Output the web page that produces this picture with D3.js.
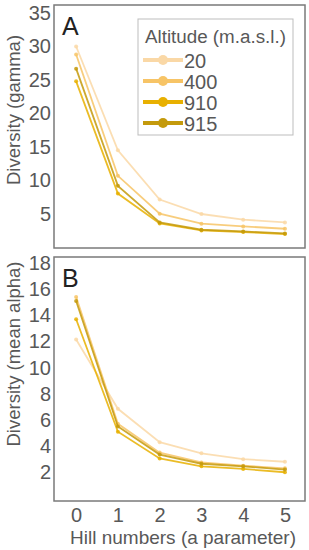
<!DOCTYPE html>
<html><head><meta charset="utf-8">
<script src="https://cdn.jsdelivr.net/npm/d3@7"></script>
<style>html,body{margin:0;padding:0;background:#fff;}svg{display:block;}</style>
</head><body>
<script>
const hill = [0, 1, 2, 3, 4, 5];
const altitudes = ["20", "400", "910", "915"];
const colors = ["#fad8a6", "#f7c466", "#e8b000", "#c49a0c"];
const gamma20  = [30.0, 14.5, 7.15, 5.0, 4.15, 3.75];
const gamma400 = [28.8, 10.7, 5.05, 3.55, 3.15, 2.8];
const gamma910 = [24.8, 8.05, 3.6, 2.55, 2.3, 2.0];
const gamma915 = [26.7, 9.2, 3.75, 2.65, 2.4, 2.1];
const alpha20  = [12.15, 6.85, 4.3, 3.45, 3.0, 2.8];
const alpha400 = [15.4, 5.7, 3.5, 2.75, 2.5, 2.3];
const alpha910 = [13.7, 5.1, 3.05, 2.45, 2.25, 2.0];
const alpha915 = [15.1, 5.5, 3.35, 2.65, 2.45, 2.2];
const gammaTicks = [5, 10, 15, 20, 25, 30, 35];
const alphaTicks = [2, 4, 6, 8, 10, 12, 14, 16, 18];
const xTicks = [0, 1, 2, 3, 4, 5];

const W = 309, H = 550;
const svg = d3.select("body").append("svg").attr("width", W).attr("height", H);
const font = "'Liberation Sans', Arial, sans-serif";

const x = d3.scaleLinear().domain([-0.53, 5.48]).range([54, 305]);
const panels = [
  {letter: "A", title: "Diversity (gamma)", series: [gamma20, gamma400, gamma910, gamma915],
   y: d3.scaleLinear().domain([0, 36.2]).range([247.5, 5]), ticks: gammaTicks, top: 5, bottom: 248, titleY: 110},
  {letter: "B", title: "Diversity (mean alpha)", series: [alpha20, alpha400, alpha910, alpha915],
   y: d3.scaleLinear().domain([-0.2, 18.46]).range([501, 257]), ticks: alphaTicks, top: 257, bottom: 501, titleY: 354}
];

panels.forEach((p, pi) => {
  const g = svg.append("g");
  g.append("rect").attr("x", x.range()[0]).attr("y", p.top)
    .attr("width", x.range()[1] - x.range()[0]).attr("height", p.bottom - p.top)
    .attr("fill", "none").attr("stroke", "#7a7a7a").attr("stroke-width", 1.5);
  const ax = g.append("g").attr("transform", `translate(${x.range()[0]},0)`)
    .call(d3.axisLeft(p.y).tickValues(p.ticks).tickSize(0).tickPadding(3));
  ax.select(".domain").remove();
  ax.selectAll("text").attr("font-family", font).attr("font-size", 20).attr("fill", "#585858");
  g.append("text").attr("transform", `translate(13,${p.titleY}) rotate(-90)`)
    .attr("text-anchor", "middle").attr("dominant-baseline", "central")
    .attr("font-family", font).attr("font-size", 18.5).attr("fill", "#585858").text(p.title);
  g.append("text").attr("x", 62).attr("y", p.top + 30)
    .attr("font-family", font).attr("font-size", 25).attr("fill", "#222").text(p.letter);
  const line = d3.line().x((d, i) => x(hill[i])).y(d => p.y(d));
  p.series.forEach((s, si) => {
    g.append("path").datum(s).attr("d", line).attr("fill", "none")
      .attr("stroke", colors[si]).attr("stroke-width", 1.8).attr("stroke-opacity", 0.85);
    g.selectAll(null).data(s).enter().append("circle")
      .attr("cx", (d, i) => x(hill[i])).attr("cy", d => p.y(d)).attr("r", 2)
      .attr("fill", colors[si]).attr("fill-opacity", 0.85);
  });
});

const xa = svg.append("g").attr("transform", "translate(0,501)")
  .call(d3.axisBottom(x).tickValues(xTicks).tickSize(0).tickPadding(7).tickFormat(d3.format("d")));
xa.select(".domain").remove();
xa.selectAll("text").attr("font-family", font).attr("font-size", 20).attr("fill", "#585858");
svg.append("text").attr("x", 183).attr("y", 544).attr("text-anchor", "middle")
  .attr("font-family", font).attr("font-size", 19).attr("fill", "#585858").text("Hill numbers (a parameter)");

const lg = svg.append("g");
lg.append("rect").attr("x", 138).attr("y", 19).attr("width", 155).attr("height", 116)
  .attr("fill", "#fff").attr("stroke", "#bdbdbd").attr("stroke-width", 1);
lg.append("text").attr("x", 145).attr("y", 43).attr("font-family", font).attr("font-size", 18.8)
  .attr("fill", "#585858").text("Altitude (m.a.s.l.)");
altitudes.forEach((a, i) => {
  const yy = 60 + i * 21;
  lg.append("line").attr("x1", 143).attr("x2", 183).attr("y1", yy).attr("y2", yy)
    .attr("stroke", colors[i]).attr("stroke-width", 4);
  lg.append("circle").attr("cx", 163).attr("cy", yy).attr("r", 5).attr("fill", colors[i]);
  lg.append("text").attr("x", 184).attr("y", yy + 1).attr("dominant-baseline", "central")
    .attr("font-family", font).attr("font-size", 20).attr("fill", "#585858").text(a);
});
</script>
</body></html>
